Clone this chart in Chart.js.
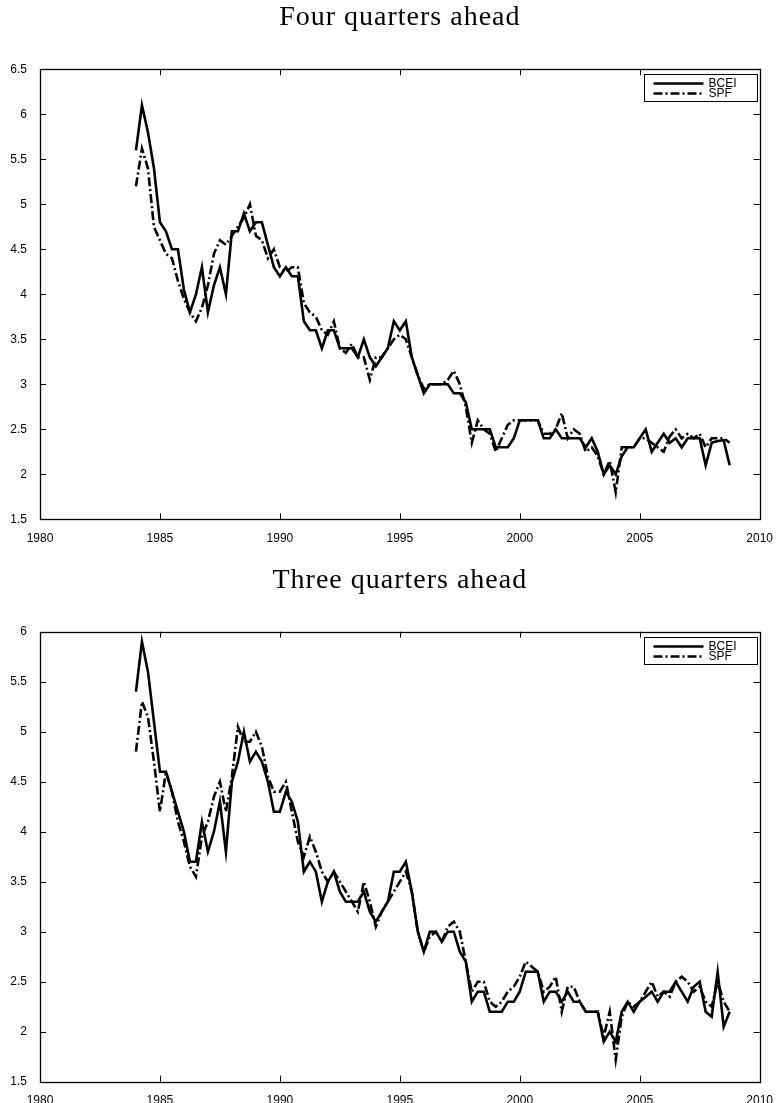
<!DOCTYPE html>
<html>
<head>
<meta charset="utf-8">
<script src="https://cdn.jsdelivr.net/npm/chart.js@4.4.1/dist/chart.umd.min.js"></script>
<style>
  html, body { margin: 0; padding: 0; background: #fff; }
  #wrap { position: relative; width: 777px; height: 1103px; }
  canvas { position: absolute; left: 0; }
  #c4 { top: 0; }
  #c3 { top: 560px; }
</style>
</head>
<body>
<div id="wrap">
  <canvas id="c4" width="777" height="560"></canvas>
  <canvas id="c3" width="777" height="543"></canvas>
</div>
<script>
// Survey years covered, one value per quarter (Q1..Q4)
const years = [1984, 1985, 1986, 1987, 1988, 1989, 1990, 1991, 1992, 1993, 1994, 1995, 1996,
               1997, 1998, 1999, 2000, 2001, 2002, 2003, 2004, 2005, 2006, 2007, 2008];
const quarters = ['Q1', 'Q2', 'Q3', 'Q4'];

// Four quarters ahead forecasts
const bcei4 = [
  5.6, 6.1, 5.8, 5.4,   4.8, 4.7, 4.5, 4.5,   4.05, 3.8, 4.0, 4.3,  3.8, 4.1, 4.3, 4.0,
  4.7, 4.7, 4.9, 4.7,   4.8, 4.8, 4.55, 4.3,  4.2, 4.3, 4.2, 4.2,   3.7, 3.6, 3.6, 3.4,
  3.6, 3.6, 3.4, 3.4,   3.4, 3.3, 3.5, 3.3,   3.2, 3.3, 3.4, 3.7,   3.6, 3.7, 3.3, 3.1,
  2.9, 3.0, 3.0, 3.0,   3.0, 2.9, 2.9, 2.8,   2.5, 2.5, 2.5, 2.5,   2.3, 2.3, 2.3, 2.4,
  2.6, 2.6, 2.6, 2.6,   2.4, 2.4, 2.5, 2.4,   2.4, 2.4, 2.4, 2.3,   2.4, 2.25, 2.0, 2.1,
  2.0, 2.2, 2.3, 2.3,   2.4, 2.5, 2.25, 2.35, 2.45, 2.35, 2.4, 2.3, 2.4, 2.4, 2.4, 2.1,
  2.35, 2.37, 2.38, 2.1
];
const spf4 = [
  5.2, 5.62, 5.4, 4.75, 4.6, 4.45, 4.4, 4.15, 3.95, 3.8, 3.7, 3.85, 4.1, 4.45, 4.6, 4.55,
  4.65, 4.75, 4.85, 5.0, 4.65, 4.6, 4.4, 4.5, 4.3, 4.25, 4.3, 4.3,  3.9, 3.8, 3.75, 3.6,
  3.55, 3.7, 3.4, 3.35, 3.45, 3.3, 3.3, 3.05, 3.3, 3.3, 3.4, 3.5,  3.55, 3.5, 3.3, 3.1,
  2.95, 3.0, 3.0, 3.0,  3.05, 3.15, 3.0, 2.75, 2.35, 2.6, 2.5, 2.45, 2.25, 2.4, 2.55, 2.6,
  2.6, 2.6, 2.6, 2.6,   2.45, 2.45, 2.5, 2.68, 2.4, 2.5, 2.45, 2.25, 2.3, 2.2, 2.0, 2.15,
  1.8, 2.3, 2.3, 2.3,   2.4, 2.4, 2.35, 2.3,  2.25, 2.42, 2.5, 2.4, 2.45, 2.4, 2.45, 2.3,
  2.4, 2.4, 2.4, 2.35
];

// Three quarters ahead forecasts
const bcei3 = [
  5.4, 5.9, 5.6, 5.1,   4.6, 4.6, 4.4, 4.2,   4.0, 3.7, 3.7, 4.1,   3.8, 4.0, 4.3, 3.8,
  4.5, 4.7, 5.0, 4.7,   4.8, 4.7, 4.5, 4.2,   4.2, 4.4, 4.3, 4.1,   3.6, 3.7, 3.6, 3.3,
  3.5, 3.6, 3.4, 3.3,   3.3, 3.3, 3.4, 3.2,   3.1, 3.2, 3.3, 3.6,   3.6, 3.7, 3.4, 3.0,
  2.8, 3.0, 3.0, 2.9,   3.0, 3.0, 2.8, 2.7,   2.3, 2.4, 2.4, 2.2,   2.2, 2.2, 2.3, 2.3,
  2.4, 2.6, 2.6, 2.6,   2.3, 2.4, 2.4, 2.3,   2.4, 2.3, 2.3, 2.2,   2.2, 2.2, 1.9, 2.0,
  1.9, 2.2, 2.3, 2.2,   2.3, 2.35, 2.4, 2.3,  2.4, 2.4, 2.5, 2.4,   2.3, 2.45, 2.5, 2.2,
  2.15, 2.6, 2.05, 2.2
];
const spf3 = [
  4.8, 5.3, 5.15, 4.7,  4.2, 4.6, 4.4, 4.1,   3.9, 3.65, 3.55, 3.95, 4.1, 4.35, 4.5, 4.2,
  4.55, 5.05, 4.9, 4.9, 5.0, 4.85, 4.55, 4.4, 4.4, 4.5, 4.2, 3.9,   3.75, 3.95, 3.8, 3.6,
  3.5, 3.6, 3.5, 3.4,   3.3, 3.2, 3.5, 3.3,   3.05, 3.2, 3.3, 3.4,  3.5, 3.6, 3.4, 3.0,
  2.8, 2.95, 3.0, 2.9,  3.05, 3.1, 3.0, 2.7,  2.4, 2.5, 2.5, 2.3,   2.25, 2.3, 2.4, 2.45,
  2.55, 2.7, 2.65, 2.6, 2.4, 2.45, 2.55, 2.2, 2.45, 2.45, 2.3, 2.2, 2.2, 2.2, 1.95, 2.2,
  1.72, 2.15, 2.3, 2.25, 2.3, 2.4, 2.5, 2.35, 2.4, 2.35, 2.5, 2.55, 2.5, 2.4, 2.45, 2.3,
  2.25, 2.5, 2.3, 2.2
];

const seriesNames = ['BCEI', 'SPF'];
const panelTitles = ['Four quarters ahead', 'Three quarters ahead'];
const xTicks = [1980, 1985, 1990, 1995, 2000, 2005, 2010];

// Quarter positions on the time axis: Q1 sits on the year mark
const dates = [];
years.forEach(y => quarters.forEach((q, i) => dates.push(y + i / 4)));

const toPoints = vals => vals.map((v, i) => ({ x: dates[i], y: v }));

const tickFont = { family: "'Liberation Sans', Arial, Helvetica, sans-serif", size: 12 };
const SPF_DASH = [9, 3, 2, 3];

// Panel title centred over the axes, boxed axes with inward ticks, in-plot legend
const framePlugin = {
  id: 'frame',
  afterDraw(chart, args, opts) {
    const { ctx, chartArea: a, scales } = chart;
    const len = 6;
    ctx.save();

    ctx.fillStyle = '#000';
    ctx.font = "28px 'Liberation Serif', 'DejaVu Serif', serif";
    if ('letterSpacing' in ctx) ctx.letterSpacing = '1px';
    ctx.textAlign = 'center';
    ctx.textBaseline = 'middle';
    ctx.fillText(opts.title, (a.left + a.right) / 2, opts.titleY);
    if ('letterSpacing' in ctx) ctx.letterSpacing = '0px';

    ctx.strokeStyle = '#000';
    ctx.lineWidth = 1;
    ctx.beginPath();
    scales.x.ticks.forEach(t => {
      const px = Math.round(scales.x.getPixelForValue(t.value)) + 0.5;
      if (px <= a.left + 1 || px >= a.right - 1) return;
      ctx.moveTo(px, a.bottom); ctx.lineTo(px, a.bottom - len);
      ctx.moveTo(px, a.top); ctx.lineTo(px, a.top + len);
    });
    scales.y.ticks.forEach(t => {
      const py = Math.round(scales.y.getPixelForValue(t.value)) + 0.5;
      if (py <= a.top + 1 || py >= a.bottom - 1) return;
      ctx.moveTo(a.left, py); ctx.lineTo(a.left + len, py);
      ctx.moveTo(a.right, py); ctx.lineTo(a.right - len, py);
    });
    ctx.stroke();
    ctx.lineWidth = 1.3;
    ctx.strokeRect(Math.round(a.left) + 0.5, Math.round(a.top) + 0.5,
                   Math.round(a.right - a.left), Math.round(a.bottom - a.top));

    // legend box in the upper right corner
    const bw = 113, bh = 27;
    const bx = Math.round(a.right) - 3 - bw + 0.5, by = Math.round(a.top) + 5 + 0.5;
    ctx.fillStyle = '#fff';
    ctx.fillRect(bx, by, bw, bh);
    ctx.lineWidth = 1;
    ctx.strokeRect(bx, by, bw, bh);
    ctx.font = "12px 'Liberation Sans', Arial, sans-serif";
    ctx.textBaseline = 'middle';
    ctx.textAlign = 'left';
    chart.data.datasets.forEach((ds, i) => {
      const ly = by + 9 + i * 10;
      ctx.beginPath();
      ctx.setLineDash(ds.borderDash || []);
      ctx.lineWidth = ds.borderWidth;
      ctx.strokeStyle = ds.borderColor;
      ctx.moveTo(bx + 9, ly); ctx.lineTo(bx + 59, ly);
      ctx.stroke();
      ctx.setLineDash([]);
      ctx.fillStyle = '#000';
      ctx.fillText(ds.label, bx + 64, ly + 0.5);
    });
    ctx.restore();
  }
};

function makePanel(canvasId, title, bcei, spf, yMin, yMax, areaTop, titleY, xAxisHeight) {
  return new Chart(document.getElementById(canvasId), {
    type: 'line',
    data: {
      datasets: [
        { label: seriesNames[0], data: toPoints(bcei), borderColor: '#000', borderWidth: 2.6,
          pointRadius: 0, fill: false, tension: 0 },
        { label: seriesNames[1], data: toPoints(spf), borderColor: '#000', borderWidth: 2.6,
          borderDash: SPF_DASH, pointRadius: 0, fill: false, tension: 0 }
      ]
    },
    options: {
      responsive: false,
      animation: false,
      layout: { padding: { left: 0, right: 17, top: areaTop, bottom: 0 } },
      plugins: {
        legend: { display: false },
        tooltip: { enabled: false },
        title: { display: false },
        frame: { title: title, titleY: titleY }
      },
      scales: {
        x: {
          type: 'linear', min: xTicks[0], max: xTicks[xTicks.length - 1],
          afterBuildTicks: s => { s.ticks = xTicks.map(v => ({ value: v })); },
          ticks: { callback: v => String(v), color: '#000', font: tickFont, padding: 4,
                   maxRotation: 0, autoSkip: false },
          grid: { display: false }, border: { display: false },
          afterFit: s => { s.height = xAxisHeight; }
        },
        y: {
          min: yMin, max: yMax,
          ticks: { stepSize: 0.5, callback: v => String(v), color: '#000', font: tickFont, padding: 5 },
          grid: { display: false }, border: { display: false },
          afterFit: s => { s.width = 40; }
        }
      }
    },
    plugins: [framePlugin]
  });
}

makePanel('c4', panelTitles[0], bcei4, spf4, 1.5, 6.5, 69.3, 18, 40.7);
makePanel('c3', panelTitles[1], bcei3, spf3, 1.5, 6.0, 71.7, 21, 21.3);
</script>
</body>
</html>
